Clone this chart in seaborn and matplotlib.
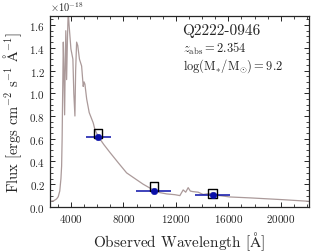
import numpy as np
import pandas as pd
import seaborn as sns
import matplotlib.pyplot as plt
from matplotlib.ticker import MultipleLocator

# model spectrum (Angstrom, 1e-18 erg/s/cm2/A)
wave = [2476, 2700, 2900, 3032, 3150, 3240, 3291, 3330, 3370, 3420, 3450, 3520, 3560, 3610,
        3672, 3740, 3794, 3860, 4000, 4150, 4220, 4305, 4360, 4434, 4520, 4650, 4815, 4937,
        5000, 5067, 5200, 5394, 5699, 5829, 6080, 6500, 6971, 7600, 8244, 9000, 9509, 10270,
        10781, 11291, 11924, 12305, 12556, 12750, 12937, 13100, 13300, 13699, 14080, 14500,
        14842, 15300, 15733, 16114, 17638, 20175, 22110]
flux = [0.05, 0.055, 0.07, 0.09, 0.14, 0.25, 0.36, 0.6, 1.0, 1.45, 1.3, 0.81, 1.2, 1.55,
        1.12, 1.5, 1.72, 1.6, 1.39, 1.3, 1.0, 0.8, 1.2, 1.45, 1.42, 1.3, 1.24, 1.06,
        1.1, 1.08, 0.95, 0.83, 0.74, 0.68, 0.62, 0.55, 0.48, 0.39, 0.30, 0.24, 0.20, 0.15,
        0.126, 0.115, 0.108, 0.10, 0.15, 0.13, 0.17, 0.14, 0.135, 0.13, 0.11, 0.118,
        0.12, 0.10, 0.094, 0.088, 0.08, 0.064, 0.05]

# photometry
phot_wave = [6080, 10324, 14793]
phot_halfwidth = [950, 1330, 1330]
model_phot = [0.647, 0.18, 0.117]
obs_phot = [0.614, 0.144, 0.102]

sns.set_style("ticks")
plt.rcParams["font.family"] = ["cmr10", "DejaVu Serif"]
plt.rcParams["mathtext.fontset"] = "cm"
plt.rcParams["axes.formatter.use_mathtext"] = True
plt.rcParams["axes.unicode_minus"] = False

spec = pd.DataFrame({"wave": wave, "flux": flux})
phot = pd.DataFrame({"wave": phot_wave, "model": model_phot, "obs": obs_phot})

fig, ax = plt.subplots(figsize=(3.16, 2.53), dpi=100)
fig.subplots_adjust(left=0.158, right=0.978, bottom=0.178, top=0.933)

sns.lineplot(data=spec, x="wave", y="flux", ax=ax, color="#ab9a9a", lw=0.9, zorder=1)
ax.errorbar(phot["wave"], phot["obs"], xerr=phot_halfwidth, fmt="none",
            ecolor="#0a10a8", elinewidth=1.1, zorder=2)
sns.scatterplot(data=phot, x="wave", y="model", ax=ax, marker="s", s=38,
                facecolor="none", edgecolor="black", linewidth=1.0, zorder=3)
sns.scatterplot(data=phot, x="wave", y="obs", ax=ax, marker="o", s=22,
                color="#0a10a8", edgecolor="#0a10a8", zorder=4)

ax.set_xlim(2400, 22150)
ax.set_ylim(0, 1.68)
ax.xaxis.set_major_locator(MultipleLocator(4000))
ax.xaxis.set_minor_locator(MultipleLocator(1000))
ax.yaxis.set_major_locator(MultipleLocator(0.2))
ax.yaxis.set_minor_locator(MultipleLocator(0.05))
ax.tick_params(which="both", direction="in", top=True, right=True, labelsize=8)
ax.tick_params(which="major", length=3.5, width=0.7)
ax.tick_params(which="minor", length=2, width=0.6)
for s in ax.spines.values():
    s.set_linewidth(0.9)

# flux scale factor shown above the y axis
ax.text(0.0, 1.015, r"$\times10^{-18}$", transform=ax.transAxes, fontsize=7.5,
        ha="left", va="bottom")

ax.set_xlabel(r"Observed Wavelength [$\mathrm{\AA}$]", fontsize=11)
ax.set_ylabel(r"Flux [ergs cm$^{-2}$ s$^{-1}$ $\mathrm{\AA}^{-1}$]", fontsize=10.5)

ax.text(0.51, 0.925, "Q2222-0946", transform=ax.transAxes, fontsize=11, va="center")
ax.text(0.515, 0.832, r"$z_{\rm abs} = 2.354$", transform=ax.transAxes, fontsize=9, va="center")
ax.text(0.515, 0.742, r"$\log(\mathrm{M}_{*}/\mathrm{M}_{\odot}) = 9.2$", transform=ax.transAxes,
        fontsize=9, va="center")

fig.savefig("out.png", dpi=100)
